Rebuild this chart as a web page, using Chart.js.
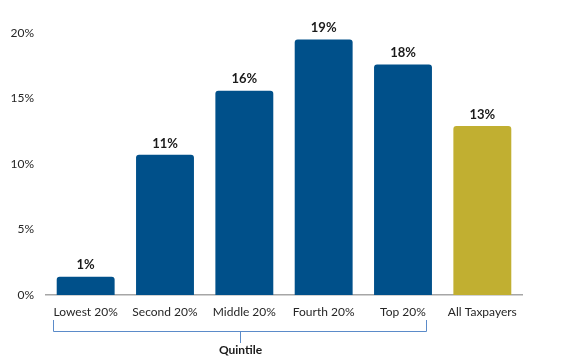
<!DOCTYPE html>
<html>
<head>
<meta charset="utf-8">
<script src="https://cdn.jsdelivr.net/npm/chart.js@4/dist/chart.umd.min.js"></script>
<style>
  html, body { margin: 0; padding: 0; background: #fff; }
  #wrap { width: 564px; height: 358px; position: relative; }
</style>
</head>
<body>
<div id="wrap"><canvas id="chart" width="564" height="358"></canvas></div>
<script>
const categories = ['Lowest 20%', 'Second 20%', 'Middle 20%', 'Fourth 20%', 'Top 20%', 'All Taxpayers'];
const values = [1.4, 10.7, 15.6, 19.5, 17.6, 12.9];
const valueLabels = ['1%', '11%', '16%', '19%', '18%', '13%'];
const barColors = ['#00508A', '#00508A', '#00508A', '#00508A', '#00508A', '#C1AF31'];
const yTicks = [0, 5, 10, 15, 20];
const groupLabel = 'Quintile';
const groupCount = 5; // first five bars are quintiles

const FONT = 'Lato, "Open Sans", sans-serif';

// value labels above bars
const barLabels = {
  id: 'barLabels',
  afterDatasetsDraw(chart) {
    const ctx = chart.ctx;
    const meta = chart.getDatasetMeta(0);
    ctx.save();
    ctx.font = 'bold 13px ' + FONT;
    ctx.fillStyle = '#1a1a1a';
    ctx.textAlign = 'center';
    ctx.textBaseline = 'bottom';
    meta.data.forEach((bar, i) => {
      ctx.fillText(valueLabels[i], bar.x, bar.y - 5);
    });
    ctx.restore();
  }
};

// bracket under the quintile categories
const bracket = {
  id: 'bracket',
  afterDraw(chart) {
    const ctx = chart.ctx;
    const x = chart.scales.x;
    ctx.save();
    ctx.font = '12px ' + FONT;
    const w0 = ctx.measureText(categories[0]).width;
    const wN = ctx.measureText(categories[groupCount - 1]).width;
    const left = Math.round(x.getPixelForValue(0) - w0 / 2) - 0.5;
    const right = Math.round(x.getPixelForValue(groupCount - 1) + wN / 2) + 0.5;
    const yTop = 320, yLine = 331.5, yMid = 343;
    const mid = Math.round((left + right) / 2) + 0.5;
    ctx.strokeStyle = '#5B8BC9';
    ctx.lineWidth = 1;
    ctx.beginPath();
    ctx.moveTo(left, yTop);
    ctx.lineTo(left, yLine);
    ctx.lineTo(right, yLine);
    ctx.lineTo(right, yTop);
    ctx.moveTo(mid, yLine);
    ctx.lineTo(mid, yMid);
    ctx.stroke();
    ctx.font = 'bold 12px ' + FONT;
    ctx.fillStyle = '#1a1a1a';
    ctx.textAlign = 'center';
    ctx.textBaseline = 'middle';
    ctx.fillText(groupLabel, mid, 350);
    ctx.restore();
  }
};

new Chart(document.getElementById('chart'), {
  type: 'bar',
  data: {
    labels: categories,
    datasets: [{
      data: values,
      backgroundColor: barColors,
      borderRadius: { topLeft: 3, topRight: 3, bottomLeft: 0, bottomRight: 0 },
      borderSkipped: 'bottom',
      categoryPercentage: 1,
      barPercentage: 0.73
    }]
  },
  options: {
    responsive: false,
    animation: false,
    layout: { padding: { top: 33, right: 42, left: 0, bottom: 0 } },
    plugins: { legend: { display: false }, tooltip: { enabled: false } },
    scales: {
      x: {
        grid: { display: false, drawTicks: false },
        border: { display: true, color: '#A6A6A6', width: 1.5 },
        ticks: { color: '#262626', font: { family: FONT, size: 12 }, padding: 10, maxRotation: 0 },
        afterFit(scale) { scale.height = 63; }
      },
      y: {
        min: 0,
        max: 20,
        afterBuildTicks(scale) { scale.ticks = yTicks.map(v => ({ value: v })); },
        grid: { display: false, drawTicks: false },
        border: { display: false },
        ticks: {
          color: '#262626',
          font: { family: FONT, size: 12 },
          padding: 12,
          callback: v => v + '%'
        },
        afterFit(scale) { scale.width = 46; }
      }
    }
  },
  plugins: [barLabels, bracket]
});
</script>
</body>
</html>
